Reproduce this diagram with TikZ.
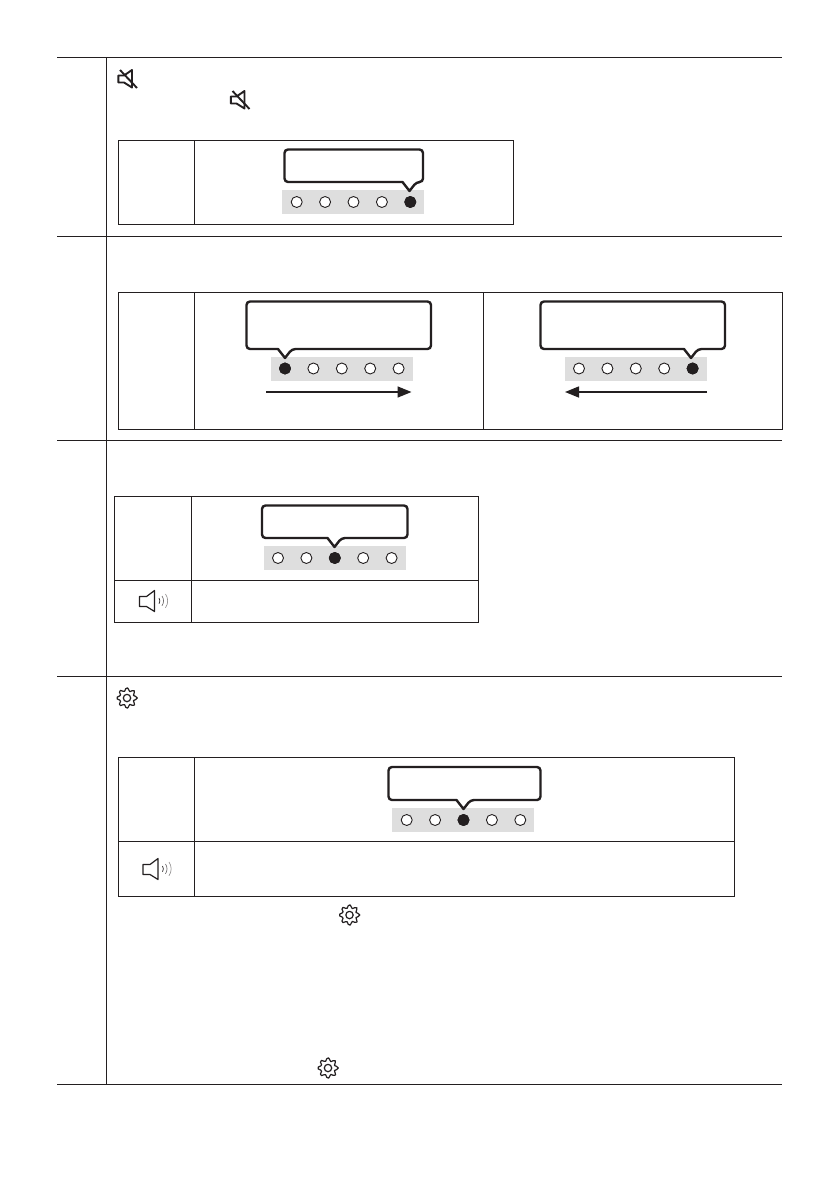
\documentclass[tikz,border=0pt]{standalone}
\usetikzlibrary{arrows.meta}
\definecolor{inkblack}{HTML}{231F20}
\definecolor{bargray}{HTML}{DEDEDE}
\newcommand{\dotbar}[3]{
  \fill[bargray] (#1-14.5,#2-12) rectangle (#1+127.5,#2+12);
  \foreach \n in {0,...,4}
    \draw[dot empty] (#1+\n*28.4,#2) circle (5.5);
  \draw[dot full] (#1+#3*28.4,#2) circle (5.5);
}
\newcommand{\callout}[5]{
  \draw[callout line, rounded corners=3.5] (#1,#2) -- (#3,#2) -- (#3,#4)
    -- (#5+7,#4) [sharp corners] -- (#5,#4+9) -- (#5-7,#4)
    [rounded corners=3.5] -- (#1,#4) -- cycle;
}
\begin{document}
\begin{tikzpicture}[
  x=1pt, y=-1pt,
  rule/.style = {draw=inkblack, line width=1.1pt},
  cell/.style = {draw=inkblack, line width=1pt},
  callout line/.style = {draw=inkblack, fill=white, line width=2.4pt, line join=round},
  dot empty/.style = {draw=inkblack, fill=white, line width=0.9pt},
  dot full/.style = {draw=inkblack, fill=inkblack, line width=0.9pt},
  slide/.style = {draw=inkblack, line width=1.5pt, -{Triangle[length=14pt,width=11pt]}},
  icon/.style = {draw=inkblack, line width=1.2pt, line join=round},
  pics/mute/.style = {code={
    \draw[icon, line width=1.9pt] (-8.7,-3.5) -- (-3,-3.5) -- (5,-9) -- (5,8.5)
      -- (-3,3.5) -- (-8.7,3.5) -- cycle;
    \draw[icon, line width=1.9pt] (-7,-9) -- (10,9);
  }},
  pics/speaker/.style = {code={
    \draw[icon] (0,-4.5) -- (7,-4.5) -- (15,-10.5) -- (15,10.5) -- (7,5.5) -- (0,5.5) -- cycle;
    \draw[icon, line width=0.7pt] (19.5,-3) arc (-35:35:5);
    \draw[icon, line width=0.6pt, draw=inkblack!75] (22.5,-5) arc (-35:35:8.5);
    \draw[icon, line width=0.6pt, draw=inkblack!55] (26,-7) arc (-35:35:12);
  }},
  pics/gear/.style = {code={
    \draw[icon] plot[smooth cycle, samples=33, domain=0:348.75]
      (\x:{8.6+1.7*cos(8*\x)});
    \draw[icon] (0,0) circle (3.7);
  }}
  ]
  \useasboundingbox (0,0) rectangle (839,1191);
  \fill[white] (0,0) rectangle (839,1191);

  % section rules
  \foreach \ypos in {57.5,236.5,440.5,676.5,1084.5}
    \draw[rule] (57,\ypos) -- (782,\ypos);
  \draw[rule] (106.5,57.5) -- (106.5,1084.5);

  % first table
  \draw[cell] (118.5,140.5) rectangle (513.5,224);
  \draw[cell] (194.5,140.5) -- (194.5,224);
  \dotbar{296.7}{202}{4}
  \callout{284.5}{149.5}{423}{182}{409.5}
  \pic at (127,79) {mute};
  \pic at (239.5,100) {mute};

  % second table
  \draw[cell] (118.5,292.5) rectangle (782,429);
  \draw[cell] (194.5,292.5) -- (194.5,429);
  \draw[cell] (483.5,292.5) -- (483.5,429);
  \dotbar{285}{368.5}{0}
  \callout{246.5}{301.5}{431}{349}{285}
  \coordinate (slide a) at (266,392);
  \coordinate (slide b) at (411.5,392);
  \draw[slide] (slide a) -- (slide b);
  \dotbar{579}{368.5}{4}
  \callout{540.5}{301.5}{725}{349}{691}
  \coordinate (slide c) at (707,392);
  \coordinate (slide d) at (565,392);
  \draw[slide] (slide c) -- (slide d);

  % third table
  \draw[cell] (114.5,496.5) rectangle (478.5,622);
  \draw[cell] (114.5,580.5) -- (478.5,580.5);
  \draw[cell] (191.5,496.5) -- (191.5,622);
  \dotbar{278}{558}{2}
  \callout{262}{505.5}{407.5}{538}{334.5}
  \pic at (139.5,601) {speaker};

  % fourth table
  \draw[cell] (118.5,757.5) rectangle (734.5,896);
  \draw[cell] (118.5,841.5) -- (734.5,841.5);
  \draw[cell] (194.5,757.5) -- (194.5,896);
  \dotbar{406.7}{820}{2}
  \callout{388.5}{767}{540.5}{800}{463.5}
  \pic at (143,869) {speaker};
  \pic at (127,698) {gear};
  \pic at (349.5,915) {gear};
  \pic at (328,1068) {gear};
\end{tikzpicture}
\end{document}
